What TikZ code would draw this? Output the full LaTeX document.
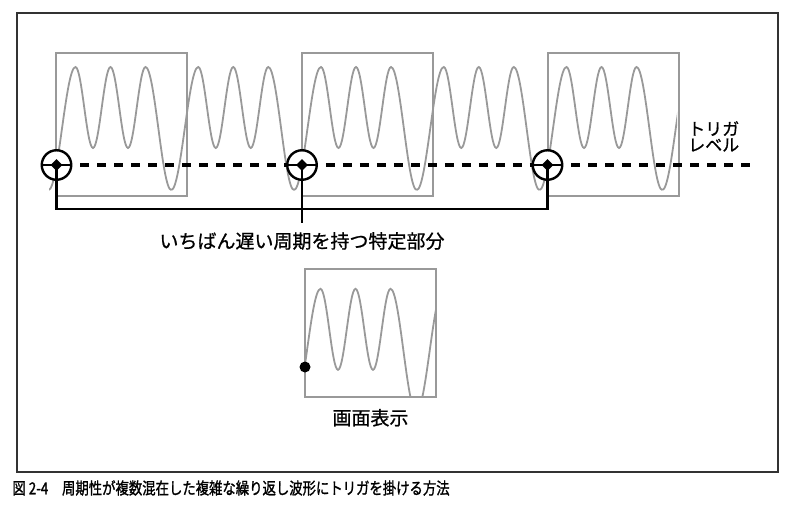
\documentclass[tikz,border=0pt]{standalone}
\usepackage{fontspec}
\setmainfont{Noto Sans CJK JP}
\newfontfamily\medfont{Noto Sans CJK JP}[FakeBold=0.8]
\newfontfamily\capfont{Noto Sans CJK JP}[FakeBold=1.4]
\usepackage{xcolor}
\usepackage{tikz}
\usetikzlibrary{shapes,arrows,positioning}

\begin{document}
\begin{tikzpicture}[
        x=1pt, y=-1pt,
        outerframe/.style={draw=black!80, line width=1.2pt},
        screenbox/.style={draw=black!40, line width=1.6pt},
        wave/.style={draw=black!40, line width=1.8pt},
        trig/.style={circle, draw=black, fill=white, line width=2.4pt, minimum size=29.5pt, inner sep=0pt},
        trigdot/.style={diamond, fill=black, inner sep=0pt, minimum size=12pt},
        bigdot/.style={circle, fill=black, inner sep=0pt, minimum size=11pt},
        trigline/.style={draw=black, line width=3.2pt, dash pattern=on 9pt off 8pt, dash phase=9pt},
        bracket/.style={draw=black, line width=2.4pt},
        lbl/.style={font=\medfont\fontsize{19}{22}\selectfont, inner sep=0pt},
        lvltext/.style={font=\medfont\fontsize{17}{16}\selectfont, align=left, inner sep=0pt},
        caption/.style={font=\capfont\fontsize{16.5}{18}\selectfont, inner sep=0pt, transform shape, xscale=0.81},
        halfwave/.pic={
            \draw[wave] (0,190) cos (13.5,128.5) sin (27,67) cos (35.75,107.5) sin (44.5,148)
              cos (53.25,107.5) sin (62,67) cos (70.75,107.5) sin (79.5,148)
              cos (88.25,107.5) sin (97,67) cos (109.875,128.5) sin (122.75,190);
          }
      ]
      \useasboundingbox (0,0) rectangle (802,525);
      \draw[outerframe] (17,13) rectangle (778,472);

      % repeated waveform
      \begin{scope}
        \clip (49,40) rectangle (677,205);
        \foreach \p in {0,...,5}
          \pic at ({48.5+122.75*\p},0) {halfwave};
      \end{scope}

      % screen windows
      \foreach \x in {56,302,548}
        \draw[screenbox] (\x,53) rectangle ++(131,143);

      % trigger points
      \foreach \n/\x in {A/56.5, B/302, C/547.5}
        \node[trig] (trig\n) at (\x,165) {};
      \coordinate (lvlEnd) at (754,165);
      \draw[trigline] (trigA) -- (trigB);
      \draw[trigline] (trigB) -- (trigC);
      \draw[trigline] (trigC) -- (lvlEnd);
      \node[lvltext, anchor=north west] (lvlLbl) at (688,121) {トリガ\\レベル};

      \draw[bracket] (trigA.center) |- (trigC.center |- 0,209) -- (trigC.center);
      \draw[bracket] (trigB.center) -- (trigB.center |- 0,223) coordinate (stub);
      \foreach \n in {A,B,C} {
          \draw[bracket] (trig\n.west) -- (trig\n.east);
          \node[trigdot] (dot\n) at (trig\n.center) {};
        }
      \node[lbl, below=9pt of stub] (slowLbl) {いちばん遅い周期を持つ特定部分};

      % display
      \node[screenbox, minimum width=131pt, minimum height=128pt, inner sep=0pt] (scr) at (370.5,333) {};
      \begin{scope}
        \clip (scr.south west) rectangle (scr.north east);
        \begin{scope}[shift={(245,269)}, yscale=0.89, shift={(0,-53)}]
          \pic at (48.5,0) {halfwave};
          \pic at (171.25,0) {halfwave};
        \end{scope}
      \end{scope}
      \node[bigdot] (dotD) at (305,367) {};
      \node[lbl, below=11pt of scr] (scrLbl) {画面表示};

      \node[caption, anchor=west] (cap) at (12.3,488) {図 2-4\hspace{17pt}周期性が複数混在した複雑な繰り返し波形にトリガを掛ける方法};
    \end{tikzpicture}
\end{document}
